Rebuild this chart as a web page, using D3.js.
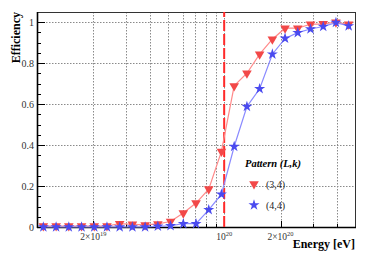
<!DOCTYPE html>
<html>
<head>
<meta charset="utf-8">
<script src="https://cdn.jsdelivr.net/npm/d3@7"></script>
<style>
  body { margin: 0; background: #fff; }
  svg { display: block; }
  text { font-family: "Liberation Serif", "DejaVu Serif", serif; }
</style>
</head>
<body>
<svg width="374" height="253"></svg>
<script>
// energies in units of 1e19 eV (log bin centres)
const energy = [1.081, 1.265, 1.479, 1.730, 2.022, 2.365, 2.765, 3.234, 3.781, 4.422,
                5.171, 6.048, 7.073, 8.270, 9.671, 11.31, 13.23, 15.47, 18.09, 21.15,
                24.73, 28.92, 33.82, 39.55, 46.25];
const eff34 = [0.005, 0.005, 0.005, 0.005, 0.005, 0.005, 0.016, 0.013, 0.010, 0.015,
               0.027, 0.068, 0.117, 0.185, 0.369, 0.689, 0.751, 0.844, 0.917, 0.971,
               0.971, 0.990, 0.992, 1.000, 0.990];
const eff44 = [0.000, 0.000, 0.000, 0.000, 0.000, 0.000, 0.000, 0.000, 0.000, 0.003,
               0.006, 0.016, 0.016, 0.084, 0.160, 0.393, 0.588, 0.675, 0.844, 0.921,
               0.949, 0.967, 0.979, 0.998, 0.982];
const seriesNames = ["(3,4)", "(4,4)"];
const yTicks = [0, 0.2, 0.4, 0.6, 0.8, 1];
const yTickLabels = ["0", "0.2", "0.4", "0.6", "0.8", "1"];
const xGrid = [2e19, 3e19, 4e19, 5e19, 6e19, 7e19, 8e19, 9e19, 1e20, 2e20, 3e20, 4e20];
const xLabelVals = [2e19, 1e20, 2e20];
const xLabelBase = ["2×10", "10", "2×10"];
const xLabelExp = ["19", "20", "20"];
const cutEnergy = 1e20;

const svg = d3.select("svg");
const pl = 37, pr = 355, pt = 12, pb = 227;

const x = d3.scaleLog().domain([1e19, 5e20]).range([pl, pr]);
const y = d3.scaleLinear().domain([0, 1.05]).range([pb, pt]);

// grid
const grid = svg.append("g").attr("stroke", "#8a8a8a").attr("stroke-width", 1)
  .attr("stroke-dasharray", "1.5,1.5").attr("fill", "none");
grid.selectAll("line.h").data(yTicks.slice(1)).enter().append("line")
  .attr("x1", pl).attr("x2", pr)
  .attr("y1", d => Math.round(y(d)) + 0.5).attr("y2", d => Math.round(y(d)) + 0.5);
grid.selectAll("line.v").data(xGrid).enter().append("line")
  .attr("x1", d => Math.round(x(d)) + 0.5).attr("x2", d => Math.round(x(d)) + 0.5)
  .attr("y1", pt).attr("y2", pb);

// y ticks (inside)
const yMinor = d3.range(0, 1.05, 0.05);
svg.append("g").attr("stroke", "#000").selectAll("line").data(yMinor).enter().append("line")
  .attr("x1", pl).attr("x2", (d, i) => pl + (i % 4 === 0 ? 8 : 4))
  .attr("y1", d => Math.round(y(d)) + 0.5).attr("y2", d => Math.round(y(d)) + 0.5);

svg.append("g").selectAll("text").data(yTicks).enter().append("text")
  .attr("x", pl - 3).attr("y", d => y(d) + 3.5)
  .attr("text-anchor", "end").attr("font-size", 10).attr("fill", "#333")
  .text((d, i) => yTickLabels[i]);

// x ticks (inside)
svg.append("g").attr("stroke", "#000").selectAll("line").data(xGrid).enter().append("line")
  .attr("x1", d => Math.round(x(d)) + 0.5).attr("x2", d => Math.round(x(d)) + 0.5)
  .attr("y1", pb).attr("y2", d => pb - (xLabelVals.includes(d) ? 6 : 3));

const xl = svg.append("g").selectAll("text").data(xLabelVals).enter().append("text")
  .attr("x", d => x(d)).attr("y", 240).attr("text-anchor", "middle")
  .attr("font-size", 9.5).attr("fill", "#333");
xl.append("tspan").text((d, i) => xLabelBase[i]);
xl.append("tspan").attr("dy", -4).attr("font-size", 6.5).text((d, i) => xLabelExp[i]);

// frame
svg.append("rect").attr("x", pl + 0.5).attr("y", pt + 0.5)
  .attr("width", pr - pl).attr("height", pb - pt)
  .attr("fill", "none").attr("stroke", "#333").attr("stroke-width", 1);
svg.append("line").attr("x1", pl + 0.5).attr("x2", pl + 0.5).attr("y1", pt).attr("y2", pb + 1)
  .attr("stroke", "#000").attr("stroke-width", 1.6);
svg.append("line").attr("x1", pl).attr("x2", pr + 1).attr("y1", pb + 0.5).attr("y2", pb + 0.5)
  .attr("stroke", "#000").attr("stroke-width", 1.6);

// cut line
svg.append("line").attr("x1", x(cutEnergy)).attr("x2", x(cutEnergy))
  .attr("y1", pb).attr("y2", pt)
  .attr("stroke", "#ff2a2a").attr("stroke-width", 2).attr("stroke-dasharray", "11,3");

// series
const line = d3.line().x(d => x(d[0] * 1e19)).y(d => y(d[1]));
const d34 = energy.map((e, i) => [e, eff34[i]]);
const d44 = energy.map((e, i) => [e, eff44[i]]);

svg.append("path").datum(d34).attr("d", line).attr("fill", "none")
  .attr("stroke", "#ff8a8a").attr("stroke-width", 1.2);
svg.append("path").datum(d44).attr("d", line).attr("fill", "none")
  .attr("stroke", "#8a8aff").attr("stroke-width", 1.2);

const tri = d3.symbol().type(d3.symbolTriangle).size(40);
const star = d3.symbol().type(d3.symbolStar).size(38);

svg.append("g").selectAll("path").data(d34).enter().append("path")
  .attr("d", tri)
  .attr("transform", d => `translate(${x(d[0] * 1e19)},${y(d[1])}) rotate(180)`)
  .attr("fill", "#f24848");
svg.append("g").selectAll("path").data(d44).enter().append("path")
  .attr("d", star)
  .attr("transform", d => `translate(${x(d[0] * 1e19)},${y(d[1])})`)
  .attr("fill", "#4a4aef");

// axis titles
svg.append("text").attr("transform", "translate(20,12) rotate(-90)")
  .attr("text-anchor", "end").attr("font-size", 12).attr("font-weight", "bold")
  .text("Efficiency");
svg.append("text").attr("x", pr).attr("y", 248).attr("text-anchor", "end")
  .attr("font-size", 12).attr("font-weight", "bold").text("Energy [eV]");

// legend
svg.append("text").attr("x", 245).attr("y", 167)
  .attr("font-size", 10.5).attr("font-weight", "bold").attr("font-style", "italic")
  .text("Pattern (L,k)");
svg.append("path").attr("d", tri).attr("transform", "translate(254,184) rotate(180)").attr("fill", "#f24848");
svg.append("path").attr("d", star).attr("transform", "translate(254,205)").attr("fill", "#4a4aef");
svg.append("g").selectAll("text").data(seriesNames).enter().append("text")
  .attr("x", 266).attr("y", (d, i) => 188 + i * 21)
  .attr("font-size", 10).attr("fill", "#222").text(d => d);
</script>
</body>
</html>
